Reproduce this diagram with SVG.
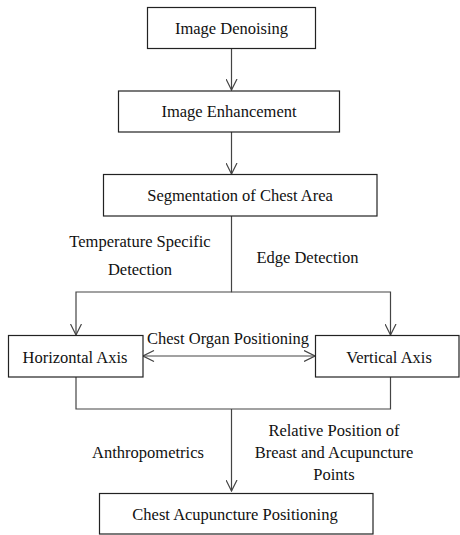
<svg xmlns="http://www.w3.org/2000/svg" width="460" height="535" viewBox="0 0 460 535">
<style>
.box{fill:#fff;stroke:#222;stroke-width:1.2}
.t{font-family:'Liberation Serif','DejaVu Serif',serif;font-size:16.5px;fill:#111;text-anchor:middle}
.c{fill:none;stroke:#444;stroke-width:1.2}
</style>
<defs>
<marker id="ah" viewBox="0 0 12 12" markerWidth="12" markerHeight="12" refX="11.5" refY="6" orient="auto-start-reverse" markerUnits="userSpaceOnUse">
<path d="M0.5,0.5 L11.5,6 L0.5,11.5" fill="none" stroke="#444" stroke-width="1.2"/>
</marker>
</defs>
<rect width="460" height="535" fill="#fff"/>
<g id="connectors">
<line class="c" x1="231.5" y1="48.5" x2="231.5" y2="90" marker-end="url(#ah)"/>
<line class="c" x1="231.5" y1="132" x2="231.5" y2="174" marker-end="url(#ah)"/>
<polyline class="c" points="231.5,216 231.5,292 76,292 76,335" marker-end="url(#ah)"/>
<polyline class="c" points="231.5,292 390.5,292 390.5,335" marker-end="url(#ah)"/>
<line class="c" x1="143" y1="356" x2="315" y2="356" marker-start="url(#ah)" marker-end="url(#ah)"/>
<polyline class="c" points="76,377 76,409 390.5,409 390.5,377"/>
<line class="c" x1="231.5" y1="409" x2="231.5" y2="491" marker-end="url(#ah)"/>
</g>
<g id="labels">
<text class="t" x="140" y="247">Temperature Specific</text>
<text class="t" x="140" y="275">Detection</text>
<text class="t" x="307.5" y="262.5">Edge Detection</text>
<text class="t" x="228" y="344">Chest Organ Positioning</text>
<text class="t" x="148" y="458">Anthropometrics</text>
<text class="t" x="334" y="436">Relative Position of</text>
<text class="t" x="334" y="458">Breast and Acupuncture</text>
<text class="t" x="334" y="480">Points</text>
</g>
<g id="n1"><rect class="box" x="147.5" y="7.5" width="168" height="41"/><text class="t" x="231.5" y="34">Image Denoising</text></g>
<g id="n2"><rect class="box" x="118.5" y="91" width="221" height="41"/><text class="t" x="229" y="117">Image Enhancement</text></g>
<g id="n3"><rect class="box" x="103.5" y="174.5" width="273.5" height="41.5"/><text class="t" x="240" y="201">Segmentation of Chest Area</text></g>
<g id="n4"><rect class="box" x="8.5" y="335.5" width="134.5" height="41.5"/><text class="t" x="75" y="362.5">Horizontal Axis</text></g>
<g id="n5"><rect class="box" x="315.5" y="335.5" width="143.5" height="41.5"/><text class="t" x="389" y="362.5">Vertical Axis</text></g>
<g id="n6"><rect class="box" x="99.5" y="493.5" width="273.5" height="40.5"/><text class="t" x="235" y="520">Chest Acupuncture Positioning</text></g>
</svg>
